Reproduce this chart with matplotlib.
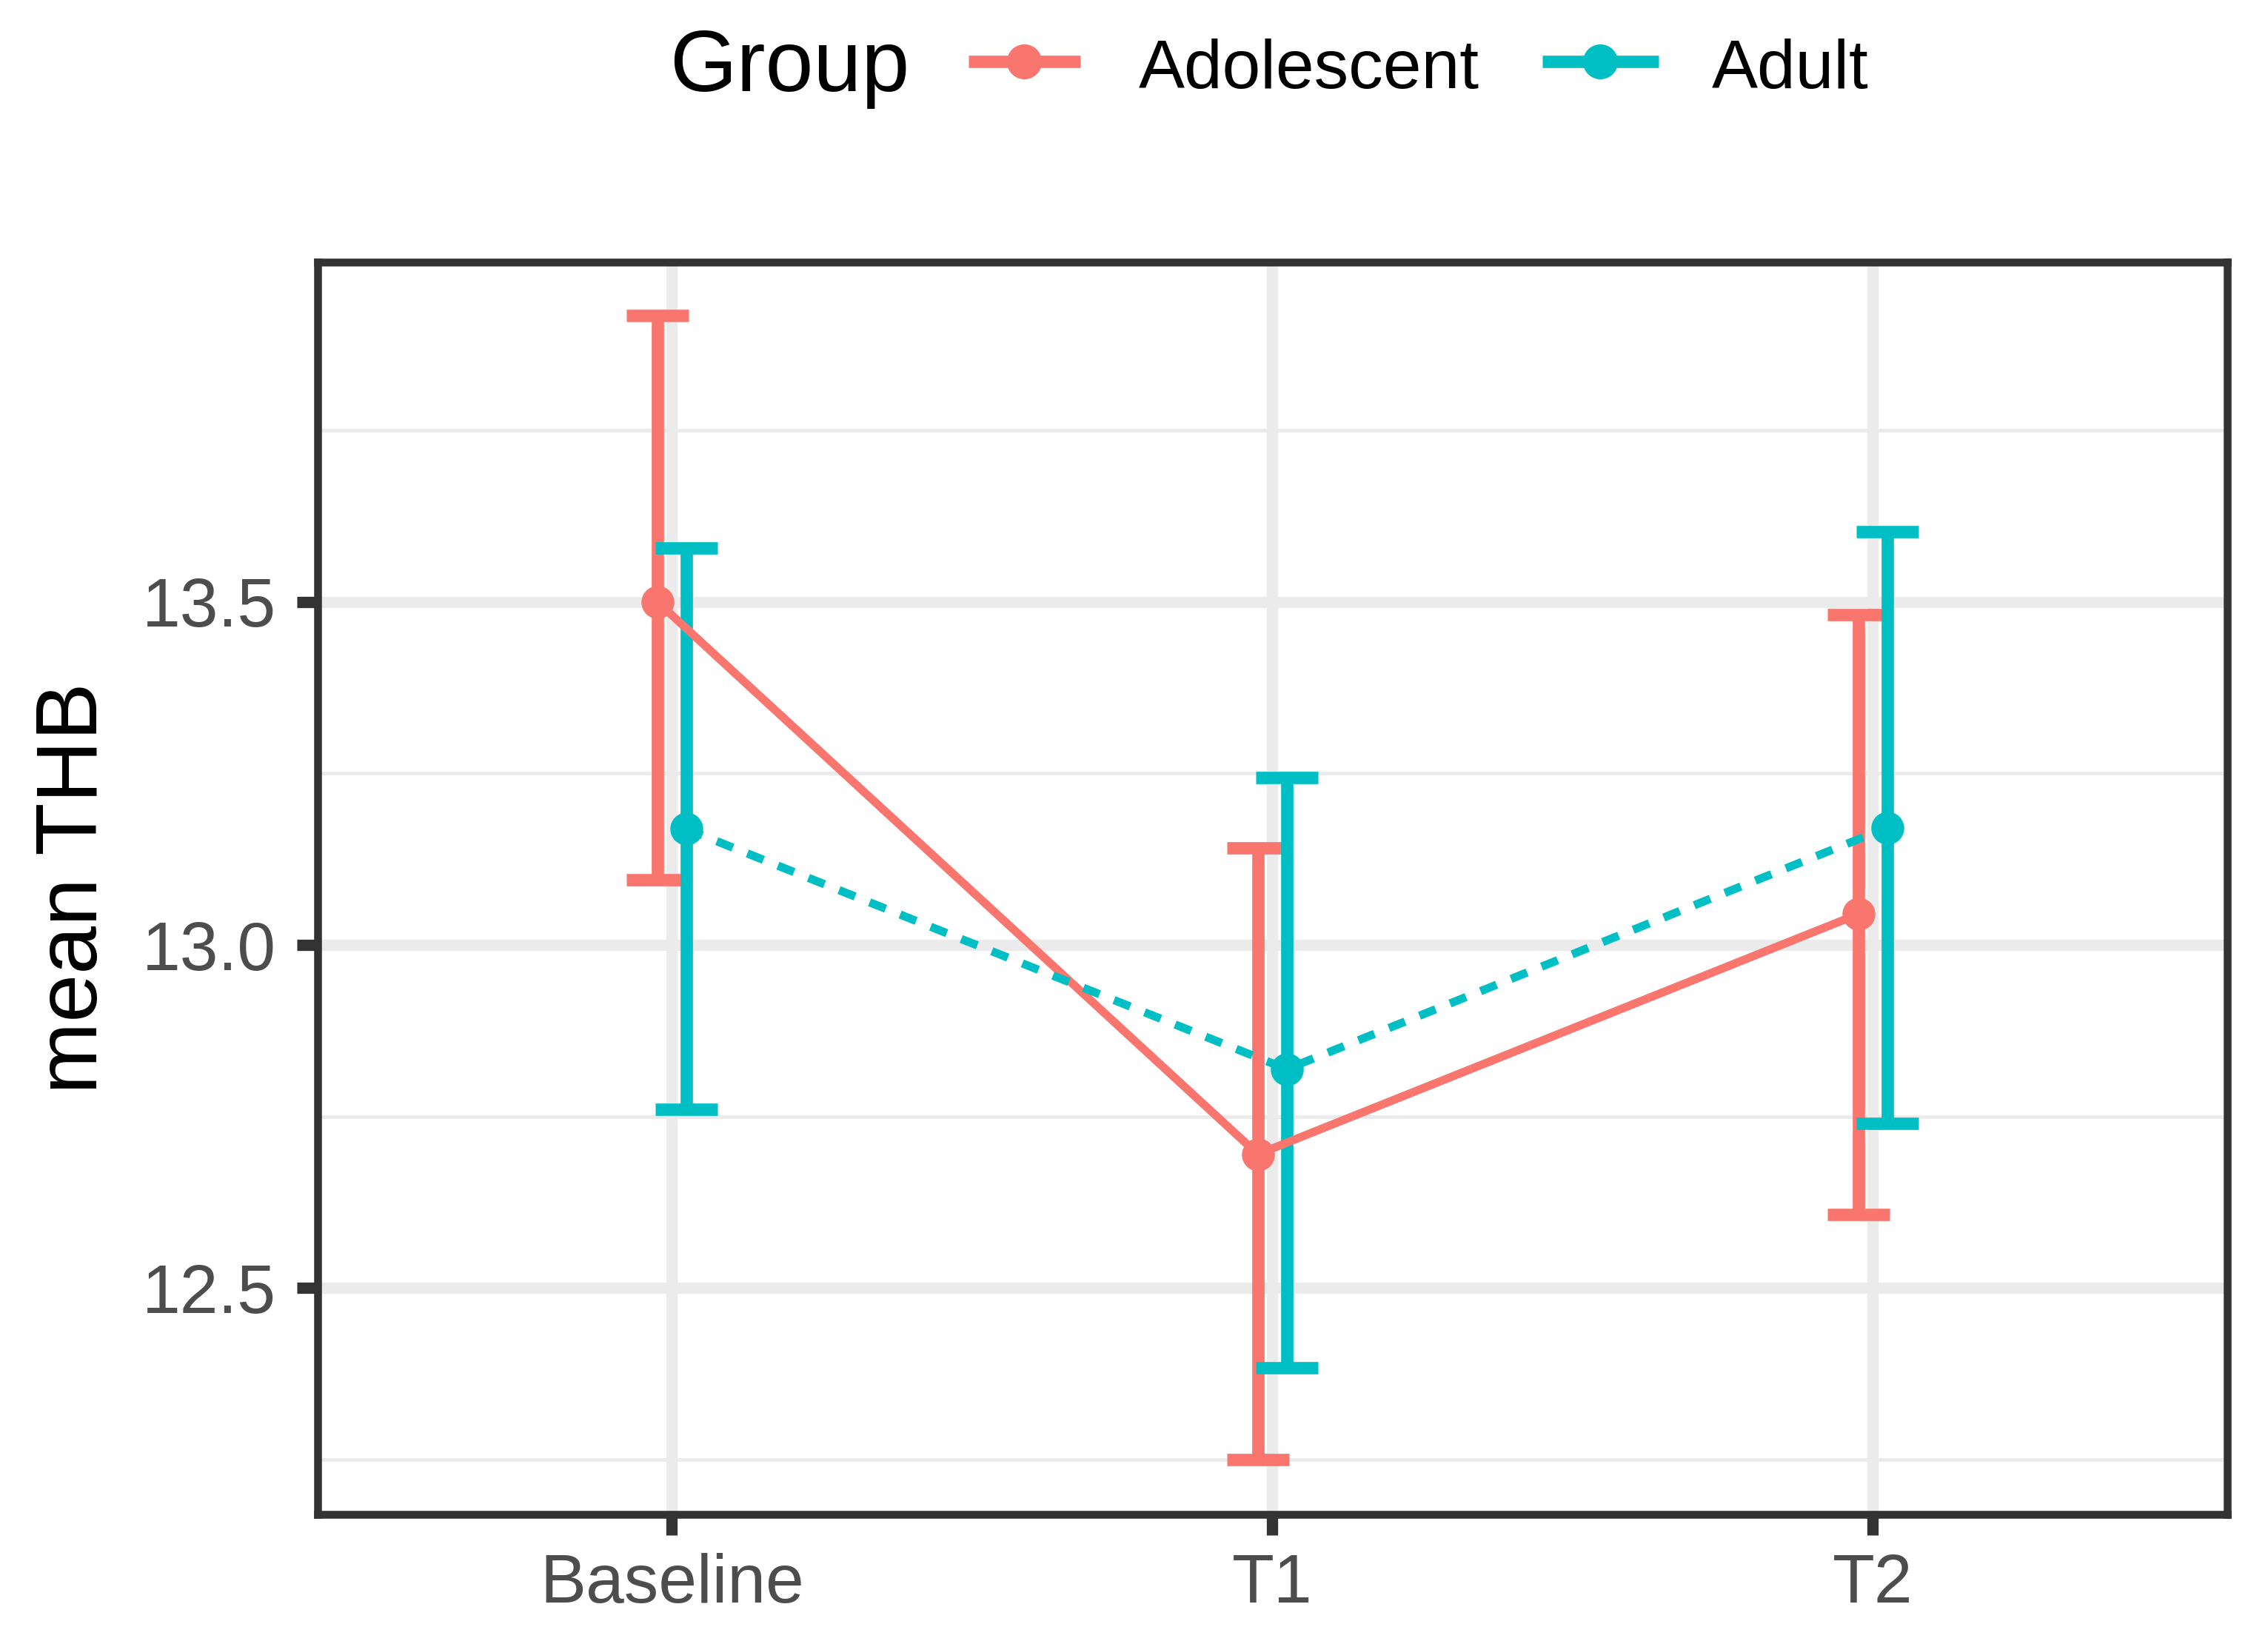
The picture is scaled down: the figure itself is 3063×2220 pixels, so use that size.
import matplotlib
matplotlib.use('Agg')
import matplotlib.pyplot as plt
from matplotlib.lines import Line2D
from matplotlib.ticker import MultipleLocator

plt.rcParams['font.family'] = ['Liberation Sans', 'DejaVu Sans']

# values
time_points = ['Baseline', 'T1', 'T2']
groups = ['Adolescent', 'Adult']
colors = {'Adolescent': '#F8766D', 'Adult': '#00BFC4'}

adolescent_mean = [13.500, 12.695, 13.045]
adolescent_lower = [13.095, 12.250, 12.607]
adolescent_upper = [13.917, 13.141, 13.481]

adult_mean = [13.169, 12.819, 13.171]
adult_lower = [12.760, 12.384, 12.740]
adult_upper = [13.578, 13.244, 13.602]

series = {
    'Adolescent': (adolescent_mean, adolescent_lower, adolescent_upper),
    'Adult': (adult_mean, adult_lower, adult_upper),
}
dodge = {'Adolescent': -0.024, 'Adult': 0.024}
line_style = {'Adolescent': '-', 'Adult': '--'}

fig = plt.figure(figsize=(15.315, 11.1), dpi=200)
ax = fig.add_axes([0.140, 0.0788, 0.842, 0.7617])

for i, g in enumerate(groups):
    mean, lower, upper = series[g]
    x = [k + 1 + dodge[g] for k in range(len(time_points))]
    yerr = [[m - lo for m, lo in zip(mean, lower)], [hi - m for m, hi in zip(mean, upper)]]
    ax.errorbar(x, mean, yerr=yerr, fmt='none', ecolor=colors[g], elinewidth=6,
                capsize=15, capthick=6, zorder=2 + i * 0.1)

for g in groups:
    mean = series[g][0]
    x = [k + 1 + dodge[g] for k in range(len(time_points))]
    ln, = ax.plot(x, mean, color=colors[g], lw=4.0, linestyle=line_style[g], zorder=3)
    if g == 'Adult':
        ln.set_dashes((2.1, 1.9))
    ax.plot(x, mean, 'o', color=colors[g], ms=16, mec='none', zorder=4)

ax.set_xlim(0.41, 3.59)
ax.set_ylim(12.17, 13.995)
ax.set_xticks([1, 2, 3], time_points)
ax.yaxis.set_major_locator(MultipleLocator(0.5))
ax.yaxis.set_minor_locator(MultipleLocator(0.25))

ax.grid(which='major', color='#EBEBEB', lw=5.5)
ax.grid(which='minor', axis='y', color='#EBEBEB', lw=1.8)
ax.set_axisbelow(True)

for s in ax.spines.values():
    s.set_color('#333333')
    s.set_linewidth(3.8)

ax.tick_params(axis='both', which='major', length=10, width=5.5, color='#333333',
               labelsize=33.5, labelcolor='#4D4D4D')
ax.tick_params(axis='y', which='major', pad=10)
ax.tick_params(axis='x', which='major', pad=8.6)
ax.tick_params(which='minor', length=0)

ax.set_ylabel('mean THB', fontsize=42, color='black')
ax.yaxis.set_label_coords(-0.106, 0.5)

# legend on top, drawn by hand to get the ggplot layout
fig.text(0.2951, 0.9446, 'Group', fontsize=42, va='baseline', ha='left')
key_y = 0.9626
legend_keys = {'Adolescent': (0.427, 0.4763, 0.5021), 'Adult': (0.680, 0.7313, 0.7548)}
for g in groups:
    x0, x1, xt = legend_keys[g]
    fig.add_artist(Line2D([x0, x1], [key_y, key_y], transform=fig.transFigure,
                          color=colors[g], lw=6, solid_capstyle='butt'))
    fig.add_artist(Line2D([(x0 + x1) / 2], [key_y], transform=fig.transFigure,
                          color=colors[g], marker='o', ms=17, mec='none'))
    fig.text(xt, 0.9464, g, fontsize=33.5, va='baseline', ha='left')

fig.savefig('out.png', dpi=200)
